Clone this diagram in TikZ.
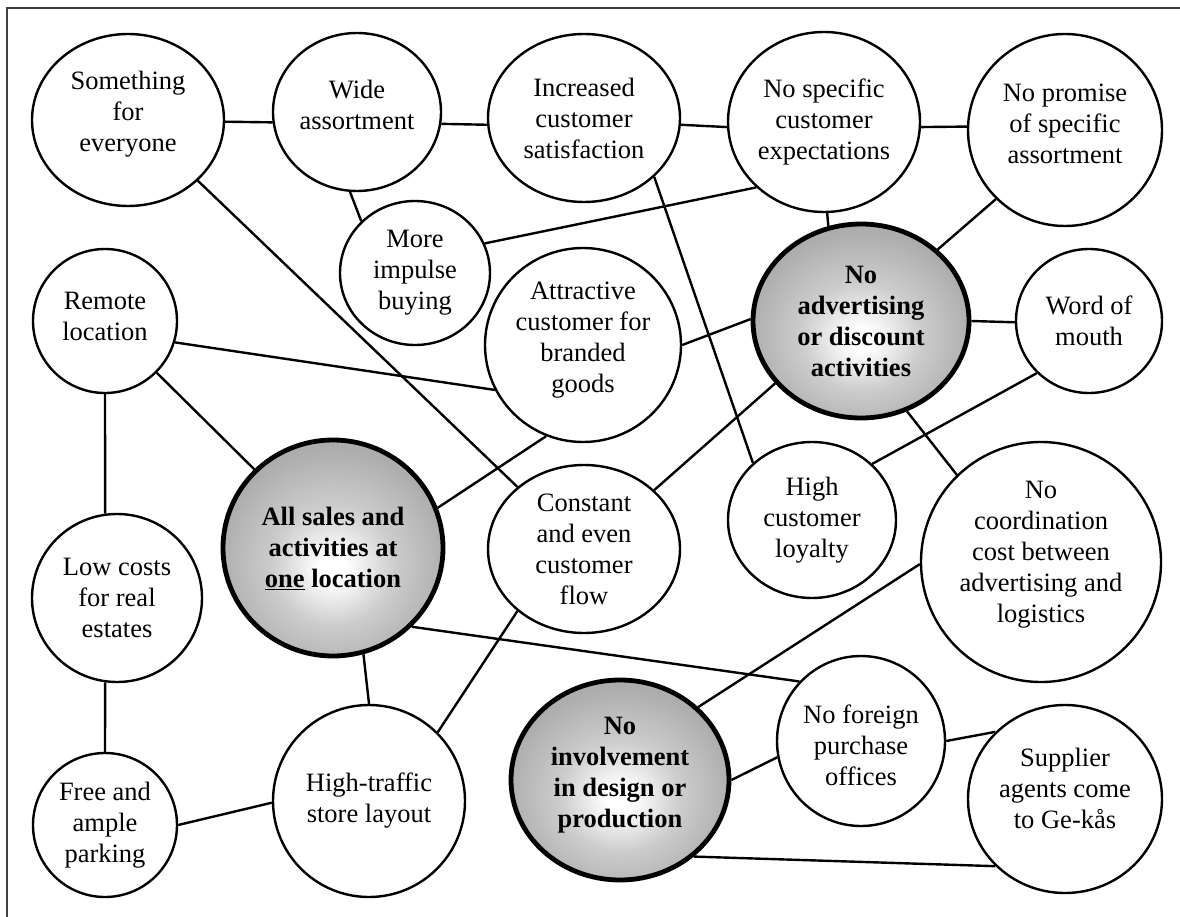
\documentclass[tikz,border=0pt]{standalone}
\usepackage{fontspec}
\setmainfont{Liberation Serif}
\usetikzlibrary{shapes.geometric}

% radial glow for the three core ideas: white centre fading to grey
\pgfdeclareradialshading{nodeglow}{\pgfpoint{0bp}{-5bp}}{%
  color(0bp)=(white); color(3bp)=(white); color(14bp)=(black!20);
  color(26bp)=(black!32); color(40bp)=(black!38); color(70bp)=(black!38)}

\newcommand{\bubfont}{\fontsize{26.5pt}{31pt}\selectfont}
% invisible strut that adds depth below the last line (moves the text up)
\newcommand{\dn}[1]{\rule[-#1pt]{0pt}{#1pt}}

\tikzset{
  bub/.style={ellipse, draw, line width=2.4pt, fill=white, inner sep=0pt,
              align=center, font=\bubfont},
  core/.style={ellipse, draw, line width=4.8pt, shading=nodeglow, inner sep=0pt,
               align=center, font=\bubfont\bfseries},
  link/.style={line width=2.4pt},
  frameline/.style={line width=1.6pt, black!75}
}

\begin{document}
\begin{tikzpicture}[x=1pt, y=-1pt]
\useasboundingbox (0,0) rectangle (1180,917);

% page frame (top and left edges)
\coordinate (fbl) at (7,917);
\coordinate (ftl) at (7,8);
\coordinate (ftr) at (1180,8);
\draw[frameline] (fbl) -- (ftl) -- (ftr);

% ideas
\node[bub, minimum width=192pt, minimum height=172pt] (some) at (128,120) {Something\\for\\everyone\dn{18}};
\node[bub, minimum width=168pt, minimum height=158pt] (wide) at (357,112) {Wide\\assortment\dn{14}};
\node[bub, minimum width=192pt, minimum height=168pt] (incr) at (584,118) {Increased\\customer\\satisfaction};
\node[bub, minimum width=192pt, minimum height=180pt] (nospec) at (824,122) {No specific\\customer\\expectations};
\node[bub, minimum width=194pt, minimum height=192pt] (nopromise) at (1065,130) {No promise\\of specific\\assortment\dn{12}};
\node[bub, minimum width=150pt, minimum height=144pt] (impulse) at (415,273) {More\\impulse\\buying};
\node[bub, minimum width=196pt, minimum height=194pt] (attr) at (583,345) {Attractive\\customer for\\branded\\goods\dn{16}};
\node[bub, minimum width=146pt, minimum height=144pt] (word) at (1089,321) {Word of\\mouth};
\node[bub, minimum width=144pt, minimum height=144pt] (remote) at (105,321) {Remote\\location\dn{10}};
\node[bub, minimum width=192pt, minimum height=168pt] (constant) at (584,549) {Constant\\and even\\customer\\flow};
\node[bub, minimum width=168pt, minimum height=156pt] (loyalty) at (812,520) {High\\customer\\loyalty};
\node[bub, minimum width=240pt, minimum height=240pt] (nocoord) at (1041,562) {No\\coordination\\cost between\\advertising and\\logistics\dn{20}};
\node[bub, minimum width=170pt, minimum height=168pt] (lowcost) at (117,598) {Low costs\\for real\\estates};
\node[bub, minimum width=168pt, minimum height=170pt] (noforeign) at (861,741) {\rule{0pt}{28pt}No foreign\\purchase\\offices};
\node[bub, minimum width=194pt, minimum height=188pt] (supplier) at (1065,799) {Supplier\\agents come\\to Ge-kås\dn{22}};
\node[bub, minimum width=192pt, minimum height=192pt] (traffic) at (369,801) {High-traffic\\store layout};
\node[bub, minimum width=144pt, minimum height=144pt] (parking) at (105,825) {Free and\\ample\\parking};

% core ideas
\node[core, minimum width=216pt, minimum height=194pt] (noadv) at (861,321) {No\\advertising\\or discount\\activities};
\node[core, minimum width=220pt, minimum height=216pt] (allsales) at (333,548) {All sales and\\activities at\\\underline{one} location};
\node[core, minimum width=218pt, minimum height=200pt] (noinv) at (620,780) {No\\involvement\\in design or\\production\dn{16}};

% connections
\draw[link] (some.-1.2) -- (wide.-173.2);
\draw[link] (wide.-8.1) -- (incr.-176.4);
\draw[link] (incr.-4.8) -- (nospec.-177.6);
\draw[link] (nospec.-3.6) -- (nopromise.178.8);
\draw[link] (wide.-95.8) -- (impulse.136.6);
\draw[link] (nospec.-136.3) -- (impulse.23.8);
\draw[link] (nospec.-88.7) -- (noadv.109.3);
\draw[link] (nopromise.-135) -- (noadv.43.8);
\draw[link] (noadv.-0.5) -- (word.-179.2);
\draw[link] (attr.0) -- (noadv.179.5);
\draw[link] (remote.-17.4) -- (attr.-153.9);
\draw[link] (some.-41.5) -- (constant.137.7);
\draw[link] (constant.40.6) -- (noadv.-144.2);
\draw[link] (allsales.21.9) -- (attr.-112.9);
\draw[link] (incr.-40.6) -- (loyalty.136);
\draw[link] (loyalty.43.1) -- (word.-135);
\draw[link] (noadv.-63.2) -- (nocoord.134.3);
\draw[link] (noinv.43.5) -- (nocoord.-179.5);
\draw[link] (traffic.45) -- (constant.-137.2);
\draw[link] (allsales.-45.7) -- (noforeign.136);
\draw[link] (noinv.0.5) -- (noforeign.-169.2);
\draw[link] (noforeign.0) -- (supplier.136.3);
\draw[link] (noinv.-46.5) -- (supplier.-136.3);
\draw[link] (remote.-45) -- (allsales.135.4);
\draw[link] (remote.-90) -- (lowcost.98.1);
\draw[link] (lowcost.-98.1) -- (parking.90);
\draw[link] (parking.0) -- (traffic.-179.4);
\draw[link] (allsales.-74.6) -- (traffic.90.6);
\end{tikzpicture}
\end{document}
